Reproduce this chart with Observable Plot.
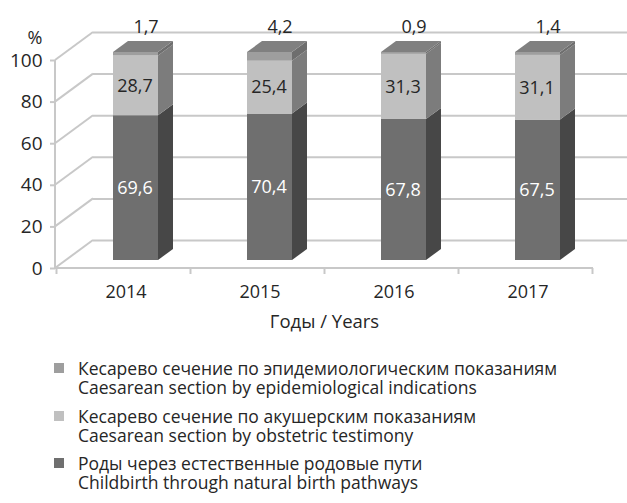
<!DOCTYPE html>
<html><head><meta charset="utf-8">
<script src="https://cdn.jsdelivr.net/npm/d3@7"></script>
<script src="https://cdn.jsdelivr.net/npm/@observablehq/plot@0.6"></script>
<style>
body{margin:0;background:#fff;font-family:"Open Sans",sans-serif;color:#262626;}
#wrap{position:relative;width:627px;height:503px;overflow:hidden;}
#chart svg{display:block;}
.item{position:absolute;left:78px;font-size:17.5px;line-height:18.5px;white-space:nowrap;}
.sw{position:absolute;left:-24px;top:4px;width:10px;height:10px;}
</style></head><body><div id="wrap"><div id="chart"></div><div id="legend"></div></div>
<script>
const years = ["2014", "2015", "2016", "2017"];
const natural = [69.6, 70.4, 67.8, 67.5];
const obstetric = [28.7, 25.4, 31.3, 31.1];
const epidemiological = [1.7, 4.2, 0.9, 1.4];
const yTicks = [0, 20, 40, 60, 80, 100];
const seriesKeys = ["natural", "obstetric", "epi"];
const seriesLabels = {
  epi: ["Кесарево сечение по эпидемиологическим показаниям", "Caesarean section by epidemiological indications"],
  obstetric: ["Кесарево сечение по акушерским показаниям", "Caesarean section by obstetric testimony"],
  natural: ["Роды через естественные родовые пути", "Childbirth through natural birth pathways"]
};
const axisTitle = "Годы / Years";
const unitLabel = "%";

const colors = {
  natural: {front: "#6f6f6f", side: "#474747", top: "#5a5a5a"},
  obstetric: {front: "#c0c0c0", side: "#7c7c7c", top: "#8a8a8a"},
  epi: {front: "#9e9e9e", side: "#6e6e6e", top: "#808080"}
};
const gridColor = "#c8c8c8";
const fmt = v => v.toFixed(1).replace(".", ",");

const seriesValues = {natural, obstetric, epi: epidemiological};
const rows = [];
years.forEach((year, j) => seriesKeys.forEach(s => rows.push({year, series: s, value: seriesValues[s][j]})));

// 3D geometry (pixel offsets)
const WALL = [38, -28];
const FRONT = [12, -8];
const BOX = [15, -11];

function box3d(index, scales, values) {
  const bw = scales.x.bandwidth();
  const g = d3.create("svg:g");
  for (const i of index) {
    const d = rows[i];
    const c = colors[d.series];
    const x0 = values.x[i] + FRONT[0], x1 = x0 + bw;
    const yT = Math.min(values.y1[i], values.y2[i]) + FRONT[1];
    const yB = Math.max(values.y1[i], values.y2[i]) + FRONT[1];
    g.append("rect").attr("x", x0).attr("y", yT).attr("width", bw).attr("height", yB - yT).attr("fill", c.front);
    g.append("polygon").attr("points", [[x1, yT], [x1 + BOX[0], yT + BOX[1]], [x1 + BOX[0], yB + BOX[1]], [x1, yB]].join(" ")).attr("fill", c.side);
    if (d.series === seriesKeys[seriesKeys.length - 1]) {
      g.append("polygon").attr("points", [[x0, yT], [x1, yT], [x1 + BOX[0], yT + BOX[1]], [x0 + BOX[0], yT + BOX[1]]].join(" ")).attr("fill", c.top);
    }
  }
  return g.node();
}

function frame3d(index, scales, values, dims) {
  const g = d3.create("svg:g").attr("stroke", gridColor).attr("stroke-width", 2).attr("fill", "none");
  const L = dims.marginLeft, R = dims.width - dims.marginRight;
  const y0 = scales.y(0), y100 = scales.y(100);
  for (const v of yTicks) {
    const y = scales.y(v);
    g.append("line").attr("x1", L).attr("y1", y).attr("x2", L + WALL[0]).attr("y2", y + WALL[1]);
  }
  g.append("line").attr("x1", L).attr("y1", y0).attr("x2", L).attr("y2", y100);
  g.append("line").attr("x1", L).attr("y1", y0).attr("x2", R).attr("y2", y0);
  const step = scales.x.step();
  const xs = years.map(y => scales.x(y) - (step - scales.x.bandwidth()) / 2);
  xs.push(xs[xs.length - 1] + step);
  for (const x of xs) g.append("line").attr("x1", x).attr("y1", y0).attr("x2", x).attr("y2", y0 + 6);
  return g.node();
}

const chart = Plot.plot({
  width: 627,
  height: 345,
  marginLeft: 55,
  marginRight: 34,
  marginTop: 60,
  marginBottom: 77,
  style: {fontFamily: "'Open Sans', sans-serif", color: "#262626", background: "white"},
  x: {type: "band", domain: years, paddingInner: 0.665, paddingOuter: 0.3325, label: null},
  y: {domain: [0, 100], label: null},
  marks: [
    Plot.ruleY(yTicks, {dx: WALL[0], dy: WALL[1], stroke: gridColor, strokeWidth: 2}),
    frame3d,
    Plot.axisY(yTicks, {tickSize: 5, tickPadding: 8, stroke: gridColor, strokeWidth: 2, fill: "#262626", fontSize: 19, label: null}),
    Plot.axisX({tickSize: 0, tickPadding: 17, fontSize: 18, dx: 2, fill: "#262626", label: null}),
    Plot.text([axisTitle], {frameAnchor: "bottom", dy: 59, fontSize: 18.5, fill: "#262626"}),
    Plot.text([unitLabel], {frameAnchor: "top-left", dx: -13, dy: -29, textAnchor: "end", fontSize: 18, fill: "#262626"}),
    Plot.barY(rows, {x: "year", y: "value", render: box3d}),
    Plot.text(rows, Plot.stackY({x: "year", y: "value", dx: 11, dy: -8, fontSize: 18,
      text: d => d.series === "epi" ? "" : fmt(d.value),
      fill: d => d.series === "natural" ? "#ffffff" : "#262626"})),
    Plot.text(rows, Plot.stackY2({x: "year", y: "value", dx: 22, dy: -33, fontSize: 18, fill: "#262626",
      text: d => d.series === "epi" ? fmt(d.value) : ""}))
  ]
});
document.getElementById("chart").appendChild(chart);

const legendOrder = ["epi", "obstetric", "natural"];
const legendTops = [359, 407, 454];
const legend = document.getElementById("legend");
legendOrder.forEach((k, i) => {
  const div = document.createElement("div");
  div.className = "item";
  div.style.top = legendTops[i] + "px";
  div.innerHTML = `<span class="sw" style="background:${colors[k].front}"></span>${seriesLabels[k][0]}<br>${seriesLabels[k][1]}`;
  legend.appendChild(div);
});
</script>
</body></html>
